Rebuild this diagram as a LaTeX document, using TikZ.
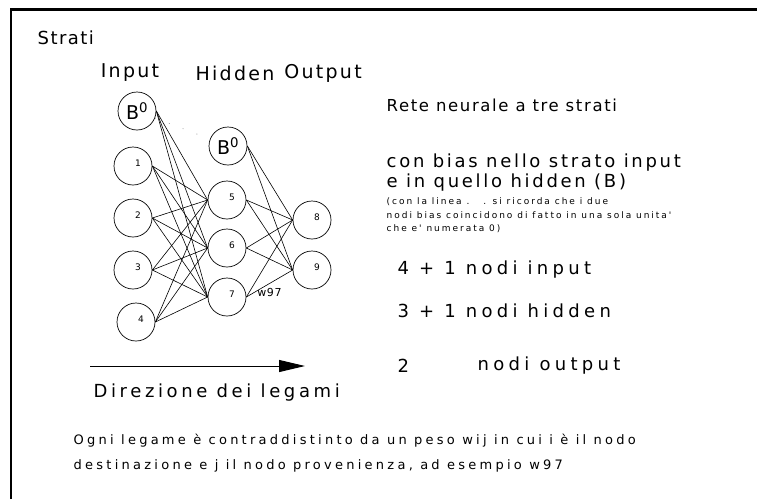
\documentclass[tikz,border=0pt]{standalone}
\usepackage{fontspec}
\newfontfamily\cadfont{DejaVu Sans}
\newcommand\cadsize[2]{\cadfont\fontsize{#1}{#1}\selectfont\addfontfeatures{LetterSpace=#2}}
\usetikzlibrary{positioning, arrows.meta}

\begin{document}
\begin{tikzpicture}[x=1pt,y=-1pt,line width=0.7pt,
                    unit node/.style={circle,draw,minimum size=38pt,inner sep=0pt},
                    bias node/.style={unit node,font=\cadsize{19}{0}},
                    num label/.style={font=\cadsize{9}{0},xshift=5pt,yshift=3pt},
                    head text/.style={font=\cadsize{19}{12}},
                    note text/.style={anchor=west,font=\cadsize{16.5}{10}},
                    count text/.style={anchor=west,font=\cadsize{18}{24}},
                    small text/.style={anchor=west,font=\cadsize{9}{22}},
                    foot text/.style={anchor=west,font=\cadsize{13}{25}}]

        \useasboundingbox (0,0) rectangle (757,499);
        \draw[line width=2.2pt] (11,499) -- (11,9.5) -- (757,9.5);

        \node[anchor=west,font=\cadsize{18}{8}] (title) at (34,38) {Strati};

        % layer headings
        \node[head text] (in head) at (130,73) {Input};
        \node[head text] (hid head) at (235,73) {Hidden};
        \node[head text] (out head) at (323,73) {Output};

        % input layer
        \node[bias node] (ib) at (137,111) {B\textsuperscript{0}};
        \node[unit node,label={[num label]center:1}] (i1) at (133,166) {};
        \node[unit node,label={[num label]center:2}] (i2) at (133,218) {};
        \node[unit node,label={[num label]center:3}] (i3) at (133,270) {};
        \node[unit node,label={[num label]center:4}] (i4) at (136,322) {};

        % hidden layer
        \node[bias node] (hb) at (228,146) {B\textsuperscript{0}};
        \node[unit node,label={[num label]center:5}] (h5) at (227,200) {};
        \node[unit node,label={[num label]center:6}] (h6) at (227,248) {};
        \node[unit node,label={[num label]center:7}] (h7) at (227,297) {};

        % output layer
        \node[unit node,label={[num label]center:8}] (o8) at (312,220) {};
        \node[unit node,label={[num label]center:9}] (o9) at (312,270) {};

        \draw[gray,dash pattern=on 0.8pt off 14pt] (ib) -- (hb);

        \path[every edge/.style={draw,line width=0.6pt}]
          (ib.east) edge (h5.west) (ib.east) edge (h6.west) (ib.east) edge (h7.west)
          (i1.east) edge (h5.west) (i1.east) edge (h6.west) (i1.east) edge (h7.west)
          (i2.east) edge (h5.west) (i2.east) edge (h6.west) (i2.east) edge (h7.west)
          (i3.east) edge (h5.west) (i3.east) edge (h6.west) (i3.east) edge (h7.west)
          (i4.east) edge (h5.west) (i4.east) edge (h6.west) (i4.east) edge (h7.west)
          (hb.east) edge (o8.west) (hb.east) edge (o9.west)
          (h5.east) edge (o8.west) (h5.east) edge (o9.west)
          (h6.east) edge (o8.west) (h6.east) edge (o9.west)
          (h7.east) edge (o8.west) (h7.east) edge node[below=1pt,font=\cadsize{11}{5}] {w97} (o9.west);

        % direction of the links
        \coordinate (dir start) at (90,366);
        \coordinate (dir end) at (305,366);
        \draw[line width=1pt,-{Triangle[length=26pt,width=12pt]}] (dir start) -- (dir end);
        \node[count text,font=\cadsize{18}{20}] (dir text) at (90,393) {Direzione dei legami};

        % notes on the right
        \node[note text] (rete) at (383,105) {Rete neurale a tre strati};
        \node[note text,font=\cadsize{18}{15}] (bias1) at (383,163) {con bias nello strato input};
        \node[note text,font=\cadsize{18}{15}] (bias2) at (383,183) {e in quello hidden (B)};
        \node[small text] (small1) at (383,202) {(con la linea .\hspace{14pt}. si ricorda che i due};
        \node[small text] (small2) at (383,215) {nodi bias coincidono di fatto in una sola unita'};
        \node[small text] (small3) at (383,229) {che e' numerata 0)};
        \node[count text] (cnt in) at (394,270) {4 + 1 nodi input};
        \node[count text] (cnt hid) at (394,311) {3 + 1 nodi hidden};
        \node[count text] (cnt out a) at (394,366) {2};
        \node[count text] (cnt out b) at (474,366) {nodi output};

        % explanation at the bottom
        \node[foot text] (foot1) at (70,441) {Ogni legame è contraddistinto da un peso wij in cui i è il nodo};
        \node[foot text] (foot2) at (70,466) {destinazione e j il nodo provenienza, ad esempio w97};
      \end{tikzpicture}
\end{document}
